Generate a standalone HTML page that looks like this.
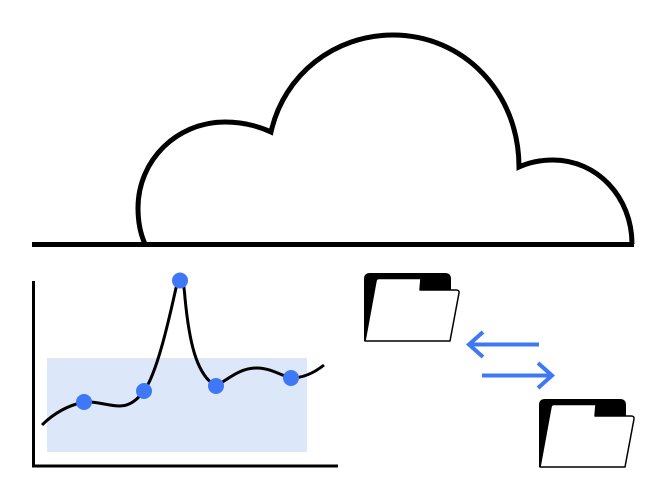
<!DOCTYPE html>
<html>
<head>
<meta charset="utf-8">
<style>
html,body{margin:0;padding:0;background:#fff;}
svg{display:block;}
</style>
</head>
<body>
<svg width="667" height="500" viewBox="0 0 667 500" xmlns="http://www.w3.org/2000/svg">
<rect width="667" height="500" fill="#fff"/>
<!-- Cloud -->
<path d="M145 244 C140 233 138 221 138 208 C138 160 177 122 225 122 C243 122 258 126 271 132 C284 74 335 35 393 35 C463 35 519 92 519 167 C530 162 541 160 553 160 C597 160 632 197 632 244" fill="none" stroke="#000" stroke-width="5" stroke-linejoin="miter"/>
<line x1="32" y1="244.500" x2="634" y2="244.500" stroke="#000" stroke-width="5"/>
<!-- Chart -->
<rect x="47" y="358" width="260" height="94" fill="#dce7fa"/>
<path d="M33.500 281 V466 H338" fill="none" stroke="#000" stroke-width="3"/>
<path d="M42 425 C55 412 70 405 84 402 C97 401 107 406 120 406 C130 406 138 399 144 391 C158 372 171 310 176 288 C182 268 184 285 185 298 C189 340 196 375 216 386 C230 378 240 368 257 368 C270 368 280 375 291 378 C303 378 314 373 324 365" fill="none" stroke="#000" stroke-width="3"/>
<g fill="#3f78f5">
<circle cx="84" cy="402" r="8"/>
<circle cx="144" cy="391" r="8"/>
<circle cx="180" cy="280.500" r="8"/>
<circle cx="216" cy="386" r="8"/>
<circle cx="291" cy="378" r="8"/>
</g>
<!-- Folder 1 -->
<g>
<path d="M364 341 V279 Q364 273 370 273 H445 Q451 273 451 279 V295 L430 341 Z" fill="#000"/>
<path d="M365 341 L376 281 Q376.500 278.500 379 278.500 H421 L420 290 H456 Q459.500 290 459 293 L450 341 Z" fill="#fff" stroke="#000" stroke-width="1.500" stroke-linejoin="round"/>
</g>
<!-- Folder 2 -->
<g transform="translate(175 126)">
<path d="M364 341 V279 Q364 273 370 273 H445 Q451 273 451 279 V295 L430 341 Z" fill="#000"/>
<path d="M365 341 L376 281 Q376.500 278.500 379 278.500 H421 L420 290 H456 Q459.500 290 459 293 L450 341 Z" fill="#fff" stroke="#000" stroke-width="1.500" stroke-linejoin="round"/>
</g>
<!-- Arrows -->
<g fill="none" stroke="#3f78f5" stroke-width="4">
<path d="M539 344.500 H470"/>
<path d="M483 332 L469 344.500 L483 357"/>
<path d="M482 375.500 H551"/>
<path d="M538 363 L552 375.500 L538 388"/>
</g>
</svg>
</body>
</html>
